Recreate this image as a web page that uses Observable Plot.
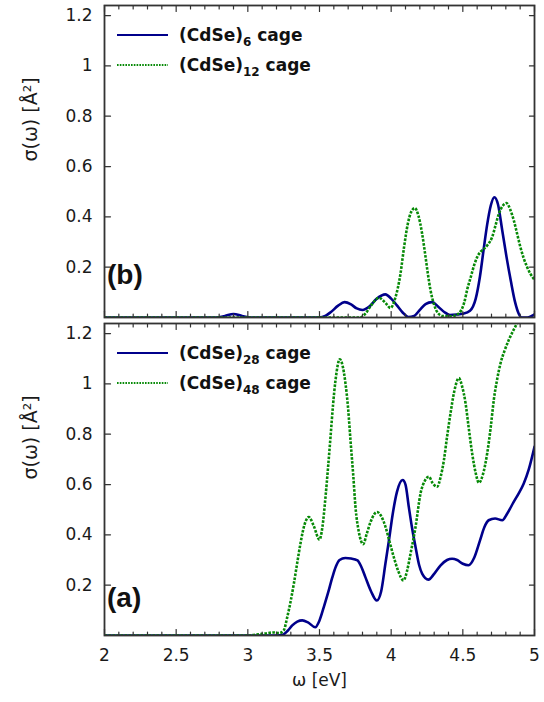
<!DOCTYPE html>
<html>
<head>
<meta charset="utf-8">
<script src="https://cdn.jsdelivr.net/npm/d3@7"></script>
<script src="https://cdn.jsdelivr.net/npm/@observablehq/plot@0.6"></script>
<style>
  html, body { margin: 0; padding: 0; background: #fff; }
  #chart { width: 544px; height: 702px; position: relative; }
  #chart svg { display: block; }
</style>
</head>
<body>
<div id="chart"></div>
<script>
// ---------- data (ω in eV, σ in Å²) ----------
const cdse6 = [[2.0,0],[2.78,0],[2.84,0.006],[2.9,0.014],[2.96,0.006],[3.02,0],[3.5,0],[3.54,0.006],[3.58,0.022],[3.63,0.047],[3.675,0.061],[3.72,0.052],[3.76,0.036],[3.80,0.03],[3.85,0.045],[3.90,0.075],[3.96,0.092],[4.0,0.075],[4.04,0.048],[4.08,0.02],[4.12,0.002],[4.16,0.006],[4.2,0.03],[4.24,0.053],[4.285,0.061],[4.33,0.042],[4.37,0.022],[4.41,0.01],[4.46,0.012],[4.5,0.015],[4.55,0.027],[4.59,0.075],[4.62,0.165],[4.645,0.27],[4.67,0.37],[4.695,0.445],[4.72,0.478],[4.745,0.45],[4.775,0.346],[4.805,0.24],[4.835,0.145],[4.865,0.06],[4.89,0.015],[4.91,0.0],[4.95,0.0],[4.98,0.006],[5.0,0.012]];

const cdse12 = [[2.0,0],[3.78,0],[3.82,0.015],[3.86,0.048],[3.915,0.078],[3.96,0.058],[3.995,0.038],[4.03,0.08],[4.065,0.174],[4.09,0.28],[4.116,0.372],[4.14,0.42],[4.165,0.435],[4.19,0.405],[4.216,0.333],[4.24,0.24],[4.256,0.174],[4.274,0.11],[4.30,0.05],[4.33,0.015],[4.36,0.006],[4.42,0.005],[4.46,0.012],[4.49,0.03],[4.51,0.06],[4.53,0.11],[4.555,0.16],[4.58,0.21],[4.6,0.24],[4.625,0.262],[4.646,0.272],[4.675,0.29],[4.705,0.32],[4.73,0.37],[4.751,0.412],[4.78,0.445],[4.805,0.455],[4.83,0.43],[4.856,0.385],[4.88,0.33],[4.902,0.279],[4.925,0.235],[4.949,0.2],[4.97,0.175],[5.0,0.15]];

const cdse28 = [[2,0],[3.2,0],[3.24,0.002],[3.28,0.02],[3.31,0.04],[3.345,0.055],[3.38,0.06],[3.42,0.052],[3.47,0.033],[3.5,0.06],[3.53,0.113],[3.56,0.17],[3.59,0.232],[3.615,0.275],[3.64,0.3],[3.68,0.308],[3.72,0.306],[3.765,0.299],[3.79,0.275],[3.82,0.232],[3.86,0.175],[3.90,0.139],[3.93,0.175],[3.96,0.286],[3.985,0.38],[4.01,0.48],[4.04,0.57],[4.08,0.618],[4.1,0.6],[4.123,0.511],[4.145,0.43],[4.17,0.352],[4.195,0.28],[4.216,0.246],[4.26,0.222],[4.30,0.245],[4.345,0.279],[4.39,0.3],[4.425,0.305],[4.46,0.3],[4.5,0.285],[4.54,0.279],[4.58,0.31],[4.62,0.378],[4.65,0.43],[4.68,0.458],[4.725,0.465],[4.775,0.458],[4.81,0.485],[4.855,0.531],[4.89,0.565],[4.925,0.604],[4.96,0.66],[5.0,0.75]];

const cdse48 = [[2,0],[3.0,0],[3.06,0.004],[3.12,0.008],[3.18,0.012],[3.22,0.01],[3.25,0.02],[3.275,0.073],[3.3,0.14],[3.321,0.206],[3.345,0.29],[3.367,0.365],[3.395,0.44],[3.425,0.471],[3.46,0.435],[3.5,0.381],[3.52,0.43],[3.542,0.551],[3.56,0.67],[3.577,0.79],[3.595,0.92],[3.612,1.016],[3.642,1.098],[3.66,1.075],[3.681,1.003],[3.7,0.9],[3.716,0.777],[3.735,0.64],[3.751,0.511],[3.775,0.41],[3.805,0.363],[3.83,0.405],[3.856,0.451],[3.902,0.491],[3.93,0.475],[3.961,0.431],[3.99,0.37],[4.018,0.312],[4.05,0.255],[4.086,0.219],[4.11,0.255],[4.135,0.325],[4.17,0.431],[4.205,0.565],[4.235,0.615],[4.263,0.631],[4.29,0.605],[4.321,0.591],[4.345,0.63],[4.368,0.697],[4.39,0.79],[4.414,0.883],[4.44,0.97],[4.472,1.023],[4.495,0.99],[4.519,0.923],[4.54,0.83],[4.565,0.724],[4.59,0.645],[4.612,0.607],[4.64,0.64],[4.67,0.724],[4.695,0.83],[4.716,0.936],[4.74,1.02],[4.763,1.082],[4.79,1.13],[4.821,1.175],[4.85,1.21],[4.879,1.242],[4.92,1.3],[4.96,1.36],[5.0,1.42]];

// axis ticks
const xDomain = [2, 5];
const yDomain = [0, 1.24];
const xMajor = [2, 2.5, 3, 3.5, 4, 4.5, 5];
const xMinor = [2.1,2.2,2.3,2.4,2.6,2.7,2.8,2.9,3.1,3.2,3.3,3.4,3.6,3.7,3.8,3.9,4.1,4.2,4.3,4.4,4.6,4.7,4.8,4.9];
const yMajor = [0.2, 0.4, 0.6, 0.8, 1, 1.2];

// labels
const topSeries = [{base: "(CdSe)", sub: "6", rest: " cage"}, {base: "(CdSe)", sub: "12", rest: " cage"}];
const botSeries = [{base: "(CdSe)", sub: "28", rest: " cage"}, {base: "(CdSe)", sub: "48", rest: " cage"}];
const panelLabels = ["(b)", "(a)"];
const yLabel = "σ(ω) [Å²]";
const xLabel = "ω [eV]";

// ---------- styling ----------
const BLUE = "#00008b";
const GREEN = "#078a07";
const FRAME = "#333";
const FONT = "'DejaVu Sans', 'Liberation Sans', Arial, sans-serif";
const LABEL_FONT = "'Liberation Sans', Arial, sans-serif";

const tickShape = {draw(ctx, l) { ctx.moveTo(0, 0); ctx.lineTo(0, -l); }};

function tickMarks() {
  const common = {shape: tickShape, stroke: FRAME, strokeWidth: 1.2, anchor: "start"};
  return [
    Plot.vector(xMajor, {...common, x: d => d, frameAnchor: "bottom", rotate: 0, length: 6}),
    Plot.vector(xMinor, {...common, x: d => d, frameAnchor: "bottom", rotate: 0, length: 3.5}),
    Plot.vector(xMajor, {...common, x: d => d, frameAnchor: "top", rotate: 180, length: 6}),
    Plot.vector(xMinor, {...common, x: d => d, frameAnchor: "top", rotate: 180, length: 3.5}),
    Plot.vector(yMajor, {...common, y: d => d, frameAnchor: "left", rotate: 90, length: 6}),
    Plot.vector(yMajor, {...common, y: d => d, frameAnchor: "right", rotate: -90, length: 5})
  ];
}

function panel(seriesA, seriesB, opts) {
  const marks = [
    Plot.line(seriesA, {x: d => d[0], y: d => d[1], stroke: BLUE, strokeWidth: 2.6, curve: "monotone-x", clip: true}),
    Plot.line(seriesB, {x: d => d[0], y: d => d[1], stroke: GREEN, strokeWidth: 2.6, strokeDasharray: "2.6,1.4", strokeLinecap: "butt", curve: "monotone-x", clip: true}),
    ...tickMarks(),
    Plot.frame({stroke: FRAME, strokeWidth: 1.8}),
    Plot.axisY(yMajor, {anchor: "left", tickSize: 0, tickPadding: 12, tickFormat: d => String(d), fontSize: 17, label: null}),
    Plot.text([yLabel], {frameAnchor: "left", dx: -74, rotate: -90, fontSize: 19, fill: "#1a1a1a"})
  ];
  if (opts.xLabels) {
    marks.push(Plot.axisX(xMajor, {anchor: "bottom", tickSize: 0, tickPadding: 13, tickFormat: d => String(d), fontSize: 17, label: null}));
    marks.push(Plot.text([xLabel], {frameAnchor: "bottom", dy: 50, fontSize: 17, fill: "#1a1a1a"}));
  }
  return Plot.plot({
    width: 544,
    height: opts.height,
    marginTop: opts.marginTop,
    marginBottom: opts.marginBottom,
    marginLeft: 104,
    marginRight: 10,
    style: {fontFamily: FONT, fontSize: "17px", color: "#1a1a1a", background: "white"},
    x: {domain: xDomain, axis: null},
    y: {domain: yDomain, axis: null},
    marks
  });
}

function addLegend(svg, series, y0, panelLabel, labelY) {
  const s = d3.select(svg);
  const g = s.append("g").attr("text-anchor", "start");
  const styles = [{stroke: BLUE, dash: null}, {stroke: GREEN, dash: "1.6,1.2"}];
  series.forEach((it, i) => {
    const cy = y0 + i * 30;
    g.append("line")
      .attr("x1", 117).attr("x2", 168).attr("y1", cy).attr("y2", cy)
      .attr("stroke", styles[i].stroke).attr("stroke-width", 1.8)
      .attr("stroke-dasharray", styles[i].dash);
    const t = g.append("text")
      .attr("x", 179).attr("y", cy + 6)
      .attr("font-family", FONT).attr("font-weight", "bold").attr("font-size", 17)
      .attr("fill", "#111");
    t.append("tspan").text(it.base);
    t.append("tspan").attr("font-size", 12).attr("dy", 5).text(it.sub);
    t.append("tspan").attr("dy", -5).text(it.rest);
  });
  g.append("text")
    .attr("x", 107).attr("y", labelY)
    .attr("font-family", LABEL_FONT).attr("font-weight", "bold").attr("font-size", 28)
    .attr("fill", "#111")
    .text(panelLabel);
}

const topPanel = panel(cdse6, cdse12, {height: 320, marginTop: 5, marginBottom: 3, xLabels: false});
addLegend(topPanel, topSeries, 35, panelLabels[0], 284);
const bottomPanel = panel(cdse28, cdse48, {height: 382, marginTop: 3, marginBottom: 67, xLabels: true});
addLegend(bottomPanel, botSeries, 33, panelLabels[1], 287);

const chart = document.getElementById("chart");
chart.appendChild(topPanel);
chart.appendChild(bottomPanel);
</script>
</body>
</html>
